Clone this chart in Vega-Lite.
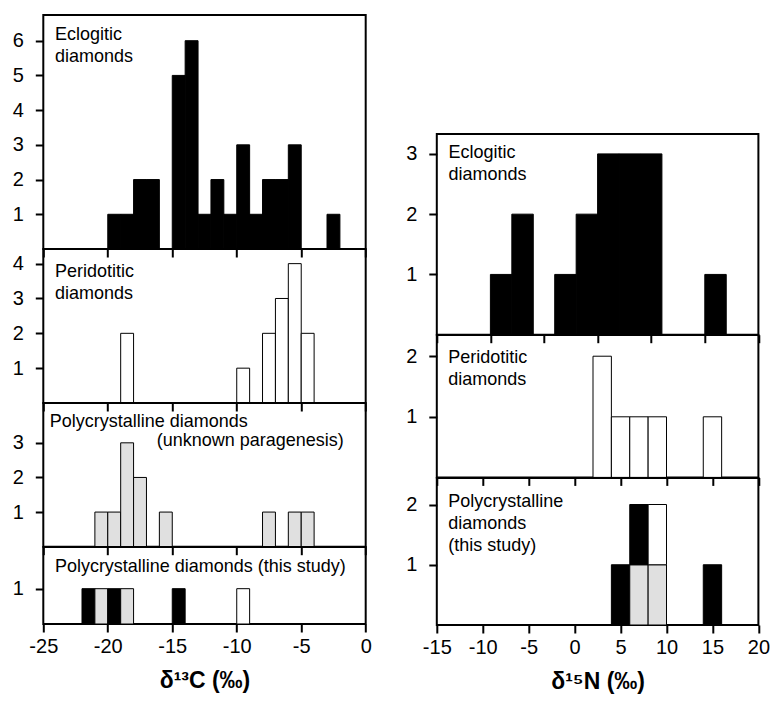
{
  "$schema": "https://vega.github.io/schema/vega-lite/v6.json",
  "padding": {"left": 10.3, "top": 14, "right": 10, "bottom": 5},
  "background": "white",
  "config": {
    "view": {"stroke": "black", "strokeWidth": 2},
    "axis": {"grid": false, "domain": false, "tickColor": "black", "tickSize": 8, "tickWidth": 2, "labelFont": "Liberation Sans", "labelFontSize": 20, "labelColor": "black", "titleFont": "Liberation Sans", "titleFontSize": 23, "titleFontWeight": "bold", "titleColor": "black"},
    "axisX": {"labelFlush": false, "labelPadding": 5, "labelExpr": "replace(datum.label, '−', '-')"},
    "axisY": {"labelPadding": 12, "format": "d"},
    "text": {"font": "Liberation Sans", "fontSize": 18, "color": "black", "align": "left", "baseline": "top", "lineBreak": "\n", "lineHeight": 22}
  },
  "datasets": {
    "c13": [
      {"p": "ecl", "t": "eclogitic", "lo": -20, "hi": -19, "b": 0, "n": 1},
      {"p": "ecl", "t": "eclogitic", "lo": -19, "hi": -18, "b": 0, "n": 1},
      {"p": "ecl", "t": "eclogitic", "lo": -18, "hi": -17, "b": 0, "n": 2},
      {"p": "ecl", "t": "eclogitic", "lo": -17, "hi": -16, "b": 0, "n": 2},
      {"p": "ecl", "t": "eclogitic", "lo": -15, "hi": -14, "b": 0, "n": 5},
      {"p": "ecl", "t": "eclogitic", "lo": -14, "hi": -13, "b": 0, "n": 6},
      {"p": "ecl", "t": "eclogitic", "lo": -13, "hi": -12, "b": 0, "n": 1},
      {"p": "ecl", "t": "eclogitic", "lo": -12, "hi": -11, "b": 0, "n": 2},
      {"p": "ecl", "t": "eclogitic", "lo": -11, "hi": -10, "b": 0, "n": 1},
      {"p": "ecl", "t": "eclogitic", "lo": -10, "hi": -9, "b": 0, "n": 3},
      {"p": "ecl", "t": "eclogitic", "lo": -9, "hi": -8, "b": 0, "n": 1},
      {"p": "ecl", "t": "eclogitic", "lo": -8, "hi": -7, "b": 0, "n": 2},
      {"p": "ecl", "t": "eclogitic", "lo": -7, "hi": -6, "b": 0, "n": 2},
      {"p": "ecl", "t": "eclogitic", "lo": -6, "hi": -5, "b": 0, "n": 3},
      {"p": "ecl", "t": "eclogitic", "lo": -3, "hi": -2, "b": 0, "n": 1},
      {"p": "per", "t": "peridotitic", "lo": -19, "hi": -18, "b": 0, "n": 2},
      {"p": "per", "t": "peridotitic", "lo": -10, "hi": -9, "b": 0, "n": 1},
      {"p": "per", "t": "peridotitic", "lo": -8, "hi": -7, "b": 0, "n": 2},
      {"p": "per", "t": "peridotitic", "lo": -7, "hi": -6, "b": 0, "n": 3},
      {"p": "per", "t": "peridotitic", "lo": -6, "hi": -5, "b": 0, "n": 4},
      {"p": "per", "t": "peridotitic", "lo": -5, "hi": -4, "b": 0, "n": 2},
      {"p": "unk", "t": "unknown", "lo": -21, "hi": -20, "b": 0, "n": 1},
      {"p": "unk", "t": "unknown", "lo": -20, "hi": -19, "b": 0, "n": 1},
      {"p": "unk", "t": "unknown", "lo": -19, "hi": -18, "b": 0, "n": 3},
      {"p": "unk", "t": "unknown", "lo": -18, "hi": -17, "b": 0, "n": 2},
      {"p": "unk", "t": "unknown", "lo": -16, "hi": -15, "b": 0, "n": 1},
      {"p": "unk", "t": "unknown", "lo": -8, "hi": -7, "b": 0, "n": 1},
      {"p": "unk", "t": "unknown", "lo": -6, "hi": -5, "b": 0, "n": 1},
      {"p": "unk", "t": "unknown", "lo": -5, "hi": -4, "b": 0, "n": 1},
      {"p": "this", "t": "eclogitic", "lo": -22, "hi": -21, "b": 0, "n": 1},
      {"p": "this", "t": "unknown", "lo": -21, "hi": -20, "b": 0, "n": 1},
      {"p": "this", "t": "eclogitic", "lo": -20, "hi": -19, "b": 0, "n": 1},
      {"p": "this", "t": "unknown", "lo": -19, "hi": -18, "b": 0, "n": 1},
      {"p": "this", "t": "eclogitic", "lo": -15, "hi": -14, "b": 0, "n": 1},
      {"p": "this", "t": "peridotitic", "lo": -10, "hi": -9, "b": 0, "n": 1}
    ],
    "n15": [
      {"p": "ecl", "t": "eclogitic", "lo": -10, "hi": -8, "b": 0, "n": 1},
      {"p": "ecl", "t": "eclogitic", "lo": -8, "hi": -6, "b": 0, "n": 2},
      {"p": "ecl", "t": "eclogitic", "lo": -4, "hi": -2, "b": 0, "n": 1},
      {"p": "ecl", "t": "eclogitic", "lo": -2, "hi": 0, "b": 0, "n": 2},
      {"p": "ecl", "t": "eclogitic", "lo": 0, "hi": 2, "b": 0, "n": 3},
      {"p": "ecl", "t": "eclogitic", "lo": 2, "hi": 4, "b": 0, "n": 3},
      {"p": "ecl", "t": "eclogitic", "lo": 4, "hi": 6, "b": 0, "n": 3},
      {"p": "ecl", "t": "eclogitic", "lo": 10, "hi": 12, "b": 0, "n": 1},
      {"p": "per", "t": "peridotitic", "lo": 2, "hi": 4, "b": 0, "n": 2},
      {"p": "per", "t": "peridotitic", "lo": 4, "hi": 6, "b": 0, "n": 1},
      {"p": "per", "t": "peridotitic", "lo": 6, "hi": 8, "b": 0, "n": 1},
      {"p": "per", "t": "peridotitic", "lo": 8, "hi": 10, "b": 0, "n": 1},
      {"p": "per", "t": "peridotitic", "lo": 14, "hi": 16, "b": 0, "n": 1},
      {"p": "this", "t": "eclogitic", "lo": 4, "hi": 6, "b": 0, "n": 1},
      {"p": "this", "t": "unknown", "lo": 6, "hi": 8, "b": 0, "n": 1},
      {"p": "this", "t": "eclogitic", "lo": 6, "hi": 8, "b": 1, "n": 2},
      {"p": "this", "t": "unknown", "lo": 8, "hi": 10, "b": 0, "n": 1},
      {"p": "this", "t": "peridotitic", "lo": 8, "hi": 10, "b": 1, "n": 2},
      {"p": "this", "t": "eclogitic", "lo": 14, "hi": 16, "b": 0, "n": 1}
    ],
    "labels": [
      {"p": "c_ecl", "x": -24.1, "y": 6.43, "s": "Eclogitic\ndiamonds"},
      {"p": "c_per", "x": -24.1, "y": 4.02, "s": "Peridotitic\ndiamonds"},
      {"p": "c_unk", "x": -24.5, "y": 3.87, "s": "Polycrystalline diamonds"},
      {"p": "c_unk", "x": -16.2, "y": 3.31, "s": "(unknown paragenesis)"},
      {"p": "c_this", "x": -24.1, "y": 1.86, "s": "Polycrystalline diamonds (this study)"},
      {"p": "n_ecl", "x": -13.9, "y": 3.17, "s": "Eclogitic\ndiamonds"},
      {"p": "n_per", "x": -13.75, "y": 2.12, "s": "Peridotitic\ndiamonds"},
      {"p": "n_this", "x": -13.75, "y": 2.19, "s": "Polycrystalline\n\u00a0diamonds\n(this study)"}
    ]
  },
  "hconcat": [
    {
      "bounds": "flush",
      "spacing": 0,
      "vconcat": [
        {
          "width": 322.4, "height": 234,
          "layer": [
            {"data": {"name": "c13"}, "transform": [{"filter": "datum.p == 'ecl'"}],
             "mark": {"type": "rect", "stroke": "black", "strokeWidth": 1},
             "encoding": {
               "x": {"field": "lo", "type": "quantitative", "scale": {"domain": [-25, 0], "nice": false, "zero": false}, "axis": {"values": [-25, -20, -15, -10, -5, 0], "labels": false, "title": null}},
               "x2": {"field": "hi"},
               "y": {"field": "b", "type": "quantitative", "scale": {"domain": [0, 6.74], "nice": false}, "axis": {"values": [1, 2, 3, 4, 5, 6], "title": null}},
               "y2": {"field": "n"},
               "fill": {"field": "t", "type": "nominal", "scale": {"domain": ["eclogitic", "peridotitic", "unknown"], "range": ["#000000", "#ffffff", "#e0e0e0"]}, "legend": null}
             }},
            {"data": {"name": "labels"}, "transform": [{"filter": "datum.p == 'c_ecl'"}],
             "mark": {"type": "text"},
             "encoding": {"x": {"field": "x", "type": "quantitative"}, "y": {"field": "y", "type": "quantitative"}, "text": {"field": "s"}}}
          ]
        },
        {
          "width": 322.4, "height": 154,
          "layer": [
            {"data": {"name": "c13"}, "transform": [{"filter": "datum.p == 'per'"}],
             "mark": {"type": "rect", "stroke": "black", "strokeWidth": 1},
             "encoding": {
               "x": {"field": "lo", "type": "quantitative", "scale": {"domain": [-25, 0], "nice": false, "zero": false}, "axis": {"values": [-25, -20, -15, -10, -5, 0], "labels": false, "title": null}},
               "x2": {"field": "hi"},
               "y": {"field": "b", "type": "quantitative", "scale": {"domain": [0, 4.42], "nice": false}, "axis": {"values": [1, 2, 3, 4], "title": null}},
               "y2": {"field": "n"},
               "fill": {"field": "t", "type": "nominal", "scale": {"domain": ["eclogitic", "peridotitic", "unknown"], "range": ["#000000", "#ffffff", "#e0e0e0"]}, "legend": null}
             }},
            {"data": {"name": "labels"}, "transform": [{"filter": "datum.p == 'c_per'"}],
             "mark": {"type": "text"},
             "encoding": {"x": {"field": "x", "type": "quantitative"}, "y": {"field": "y", "type": "quantitative"}, "text": {"field": "s"}}}
          ]
        },
        {
          "width": 322.4, "height": 143.7,
          "layer": [
            {"data": {"name": "c13"}, "transform": [{"filter": "datum.p == 'unk'"}],
             "mark": {"type": "rect", "stroke": "black", "strokeWidth": 1},
             "encoding": {
               "x": {"field": "lo", "type": "quantitative", "scale": {"domain": [-25, 0], "nice": false, "zero": false}, "axis": {"values": [-25, -20, -15, -10, -5, 0], "labels": false, "title": null}},
               "x2": {"field": "hi"},
               "y": {"field": "b", "type": "quantitative", "scale": {"domain": [0, 4.15], "nice": false}, "axis": {"values": [1, 2, 3], "title": null}},
               "y2": {"field": "n"},
               "fill": {"field": "t", "type": "nominal", "scale": {"domain": ["eclogitic", "peridotitic", "unknown"], "range": ["#000000", "#ffffff", "#e0e0e0"]}, "legend": null}
             }},
            {"data": {"name": "labels"}, "transform": [{"filter": "datum.p == 'c_unk'"}],
             "mark": {"type": "text"},
             "encoding": {"x": {"field": "x", "type": "quantitative"}, "y": {"field": "y", "type": "quantitative"}, "text": {"field": "s"}}}
          ]
        },
        {
          "width": 322.4, "height": 77,
          "layer": [
            {"data": {"name": "c13"}, "transform": [{"filter": "datum.p == 'this'"}],
             "mark": {"type": "rect", "stroke": "black", "strokeWidth": 1},
             "encoding": {
               "x": {"field": "lo", "type": "quantitative", "scale": {"domain": [-25, 0], "nice": false, "zero": false}, "axis": {"values": [-25, -20, -15, -10, -5, 0], "title": "δ¹³C (‰)", "titlePadding": 13}},
               "x2": {"field": "hi"},
               "y": {"field": "b", "type": "quantitative", "scale": {"domain": [0, 2.18], "nice": false}, "axis": {"values": [1], "title": null}},
               "y2": {"field": "n"},
               "fill": {"field": "t", "type": "nominal", "scale": {"domain": ["eclogitic", "peridotitic", "unknown"], "range": ["#000000", "#ffffff", "#e0e0e0"]}, "legend": null}
             }},
            {"data": {"name": "labels"}, "transform": [{"filter": "datum.p == 'c_this'"}],
             "mark": {"type": "text"},
             "encoding": {"x": {"field": "x", "type": "quantitative"}, "y": {"field": "y", "type": "quantitative"}, "text": {"field": "s"}}}
          ]
        }
      ]
    },
    {
      "bounds": "flush",
      "spacing": 0,
      "vconcat": [
        {
          "width": 321.6, "height": 118.7,
          "view": {"stroke": null},
          "data": {"values": [{"s": ""}]},
          "mark": {"type": "text", "opacity": 0},
          "encoding": {"text": {"field": "s"}}
        },
        {
          "width": 321.6, "height": 200.7,
          "layer": [
            {"data": {"name": "n15"}, "transform": [{"filter": "datum.p == 'ecl'"}],
             "mark": {"type": "rect", "stroke": "black", "strokeWidth": 1},
             "encoding": {
               "x": {"field": "lo", "type": "quantitative", "scale": {"domain": [-15, 15], "nice": false, "zero": false}, "axis": {"values": [-15, -10, -5, 0, 5, 10, 15], "labels": false, "title": null}},
               "x2": {"field": "hi"},
               "y": {"field": "b", "type": "quantitative", "scale": {"domain": [0, 3.33], "nice": false}, "axis": {"values": [1, 2, 3], "title": null}},
               "y2": {"field": "n"},
               "fill": {"field": "t", "type": "nominal", "scale": {"domain": ["eclogitic", "peridotitic", "unknown"], "range": ["#000000", "#ffffff", "#e0e0e0"]}, "legend": null}
             }},
            {"data": {"name": "labels"}, "transform": [{"filter": "datum.p == 'n_ecl'"}],
             "mark": {"type": "text"},
             "encoding": {"x": {"field": "x", "type": "quantitative"}, "y": {"field": "y", "type": "quantitative"}, "text": {"field": "s"}}}
          ]
        },
        {
          "width": 321.6, "height": 142.4,
          "layer": [
            {"data": {"name": "n15"}, "transform": [{"filter": "datum.p == 'per'"}],
             "mark": {"type": "rect", "stroke": "black", "strokeWidth": 1},
             "encoding": {
               "x": {"field": "lo", "type": "quantitative", "scale": {"domain": [-15, 20], "nice": false, "zero": false}, "axis": {"values": [-15, -10, -5, 0, 5, 10, 15, 20], "labels": false, "title": null}},
               "x2": {"field": "hi"},
               "y": {"field": "b", "type": "quantitative", "scale": {"domain": [0, 2.35], "nice": false}, "axis": {"values": [1, 2], "title": null}},
               "y2": {"field": "n"},
               "fill": {"field": "t", "type": "nominal", "scale": {"domain": ["eclogitic", "peridotitic", "unknown"], "range": ["#000000", "#ffffff", "#e0e0e0"]}, "legend": null}
             }},
            {"data": {"name": "labels"}, "transform": [{"filter": "datum.p == 'n_per'"}],
             "mark": {"type": "text"},
             "encoding": {"x": {"field": "x", "type": "quantitative"}, "y": {"field": "y", "type": "quantitative"}, "text": {"field": "s"}}}
          ]
        },
        {
          "width": 321.6, "height": 147,
          "layer": [
            {"data": {"name": "n15"}, "transform": [{"filter": "datum.p == 'this'"}],
             "mark": {"type": "rect", "stroke": "black", "strokeWidth": 1},
             "encoding": {
               "x": {"field": "lo", "type": "quantitative", "scale": {"domain": [-15, 20], "nice": false, "zero": false}, "axis": {"values": [-15, -10, -5, 0, 5, 10, 15, 20], "title": "δ¹⁵N (‰)", "titlePadding": 13}},
               "x2": {"field": "hi"},
               "y": {"field": "b", "type": "quantitative", "scale": {"domain": [0, 2.44], "nice": false}, "axis": {"values": [1, 2], "title": null}},
               "y2": {"field": "n"},
               "fill": {"field": "t", "type": "nominal", "scale": {"domain": ["eclogitic", "peridotitic", "unknown"], "range": ["#000000", "#ffffff", "#e0e0e0"]}, "legend": null}
             }},
            {"data": {"name": "labels"}, "transform": [{"filter": "datum.p == 'n_this'"}],
             "mark": {"type": "text"},
             "encoding": {"x": {"field": "x", "type": "quantitative"}, "y": {"field": "y", "type": "quantitative"}, "text": {"field": "s"}}}
          ]
        }
      ]
    }
  ],
  "spacing": 31.5
}
